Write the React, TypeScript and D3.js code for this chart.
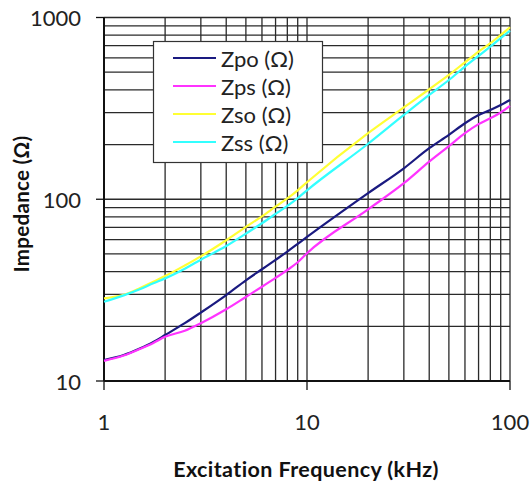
import React from "react";
import * as d3 from "d3";

const freqs = [1, 1.25, 1.5, 1.75, 2, 2.5, 3, 4, 5, 6, 7, 8, 9, 10, 20, 30, 40, 50, 60, 70, 80, 90, 100];
const zpo = [13.05, 13.9, 15.1, 16.4, 17.9, 20.8, 23.8, 29.7, 35.8, 41.2, 46.4, 51.5, 56.8, 62, 108, 148, 191, 226, 262, 291, 310, 330, 352];
const zps = [12.9, 13.8, 15.0, 16.2, 17.5, 18.9, 20.8, 24.8, 29.0, 33.0, 36.9, 40.8, 45.0, 50.5, 88, 122.5, 161, 196, 231, 259, 279, 300, 326];
const zso = [28.5, 29.8, 32.4, 35.2, 37.8, 43.2, 48.5, 59.5, 70.5, 80.5, 91, 101, 112, 124, 231, 320, 403, 483, 567, 649, 722, 802, 884];
const zss = [27.3, 29.6, 32, 34.5, 36.7, 41.5, 46.5, 55.3, 64.7, 73.8, 83, 92, 101.5, 112, 202, 291, 375, 453, 537, 615, 692, 769, 847];

const seriesNames = ["Zpo (Ω)", "Zps (Ω)", "Zso (Ω)", "Zss (Ω)"];
const seriesValues = [zpo, zps, zso, zss];
const seriesColors = ["#1a1a80", "#ff33ff", "#ffff33", "#33ffff"];

const xTickLabels = [1, 10, 100];
const yTickLabels = [10, 100, 1000];
const xGrid = [1, 2, 3, 4, 5, 6, 7, 8, 9, 10, 20, 30, 40, 50, 60, 70, 80, 90, 100];
const yGrid = [10, 20, 30, 40, 50, 60, 70, 80, 90, 100, 200, 300, 400, 500, 600, 700, 800, 900, 1000];

const W = 531;
const H = 488;
const L = 104, R = 510, T = 17.5, B = 381;
const FONT = "Lato, 'DejaVu Sans', sans-serif";

export default function App() {
  const x = d3.scaleLog().domain([1, 100]).range([L, R]);
  const y = d3.scaleLog().domain([10, 1000]).range([B, T]);

  const line = d3
    .line<[number, number]>()
    .x((d) => x(d[0]))
    .y((d) => y(d[1]))
    .curve(d3.curveMonotoneX);

  return (
    <div style={{ position: "absolute", left: 0, top: 0 }}>
      <svg width={W} height={H} style={{ display: "block", background: "#fff" }}>
        <rect x={0} y={0} width={W} height={H} fill="#fff" />
        <g stroke="#2a2a2a" strokeWidth={1.3}>
          {xGrid.map((f) => (
            <line key={"xg" + f} x1={x(f)} x2={x(f)} y1={T} y2={B} />
          ))}
          {yGrid.map((v) => (
            <line key={"yg" + v} x1={L} x2={R} y1={y(v)} y2={y(v)} />
          ))}
        </g>
        {/* axes */}
        <g stroke="#111" strokeWidth={2}>
          <line x1={L} x2={L} y1={T} y2={B} />
          <line x1={L} x2={R} y1={B} y2={B} />
          {yTickLabels.map((v) => (
            <line key={"yt" + v} x1={L - 8} x2={L} y1={y(v)} y2={y(v)} strokeWidth={1.3} />
          ))}
          {xTickLabels.map((f) => (
            <line key={"xt" + f} x1={x(f)} x2={x(f)} y1={B} y2={B + 9} strokeWidth={1.3} />
          ))}
        </g>
        {/* series */}
        {seriesValues.map((vals, i) => (
          <path
            key={"s" + i}
            d={line(freqs.map((f, j) => [f, vals[j]] as [number, number])) || ""}
            fill="none"
            stroke={seriesColors[i]}
            strokeWidth={2.2}
          />
        ))}
        {/* tick labels */}
        <g fontFamily={FONT} fontSize={22} fill="#222">
          {yTickLabels.map((v) => (
            <text key={"yl" + v} x={81} y={y(v)} textAnchor="end" dominantBaseline="central">
              {v}
            </text>
          ))}
          {xTickLabels.map((f) => (
            <text key={"xl" + f} x={x(f)} y={421} textAnchor="middle" dominantBaseline="central">
              {f}
            </text>
          ))}
        </g>
        {/* axis titles */}
        <text
          x={306}
          y={476.5}
          textAnchor="middle"
          fontFamily={FONT}
          fontWeight="bold"
          fontSize={21.5}
          letterSpacing={0.4}
          fill="#111"
        >
          Excitation Frequency (kHz)
        </text>
        <text
          transform="translate(29,204) rotate(-90)"
          textAnchor="middle"
          fontFamily={FONT}
          fontWeight="bold"
          fontSize={20.5}
          letterSpacing={0.3}
          fill="#111"
        >
          Impedance (Ω)
        </text>
        {/* legend */}
        <g>
          <rect x={153.5} y={41.5} width={169} height={121} fill="#fff" stroke="#333" strokeWidth={1.2} />
          {seriesNames.map((name, i) => {
            const ry = 58 + i * 28;
            return (
              <g key={"lg" + i}>
                <line x1={173} x2={216} y1={ry} y2={ry} stroke={seriesColors[i]} strokeWidth={2} />
                <text x={221} y={ry} dominantBaseline="central" fontFamily={FONT} fontSize={22} fill="#222">
                  {name}
                </text>
              </g>
            );
          })}
        </g>
      </svg>
    </div>
  );
}
